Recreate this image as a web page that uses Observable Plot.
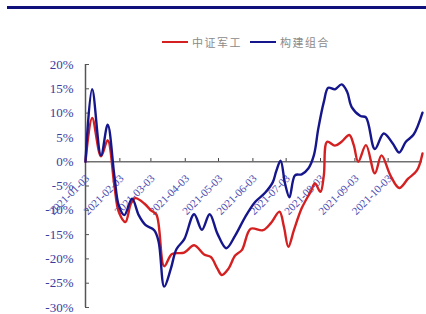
<!DOCTYPE html>
<html><head><meta charset="utf-8">
<script src="https://cdn.jsdelivr.net/npm/d3@7"></script>
<script src="https://cdn.jsdelivr.net/npm/@observablehq/plot@0.6"></script>
<style>
body{margin:0;background:#fff;}
#wrap{position:relative;width:426px;height:314px;overflow:hidden;background:#fff;}
#bar{position:absolute;left:7px;top:6px;width:419px;height:3px;background:#10107a;}
.leg{position:absolute;top:34px;height:16px;display:flex;align-items:center;font:11px "Noto Sans CJK SC";color:#8a8a8a;letter-spacing:1.5px;white-space:nowrap;}
.sw{display:inline-block;width:26px;height:2.5px;margin-right:4px;}
#chart{position:absolute;left:0;top:0;}
</style>
</head><body>
<div id="wrap">
  <div id="bar"></div>
  <div id="chart"></div>
  <div class="leg" id="leg1" style="left:162px"></div>
  <div class="leg" id="leg2" style="left:250px"></div>
</div>
<script>
// ---- data ----
const seriesNames = ["中证军工", "构建组合"];
const seriesColors = ["#d42020", "#16168c"];

const redDates = ["2021-01-03","2021-01-09","2021-01-17","2021-01-23","2021-01-29","2021-02-02","2021-02-08","2021-02-13","2021-02-17","2021-02-25","2021-03-03","2021-03-08","2021-03-15","2021-03-22","2021-04-02","2021-04-11","2021-04-20","2021-04-26","2021-05-02","2021-05-06","2021-05-12","2021-05-18","2021-05-24","2021-06-01","2021-06-12","2021-06-19","2021-06-27","2021-07-01","2021-07-05","2021-07-10","2021-07-17","2021-07-25","2021-07-29","2021-08-03","2021-08-06","2021-08-09","2021-08-16","2021-08-22","2021-08-29","2021-09-02","2021-09-06","2021-09-13","2021-09-21","2021-09-27","2021-10-05","2021-10-13","2021-10-21","2021-10-29","2021-11-03"];
const redValues = [0,9,1.1,4.4,-4.8,-10.3,-12.4,-8.6,-7.5,-8.6,-10,-10.9,-21.5,-19,-18.7,-17.2,-19.1,-19.6,-22,-23.3,-22,-19.3,-18.2,-13.8,-14.1,-12.7,-10.3,-13.4,-17.5,-14.1,-9.6,-6.2,-4.5,-6.2,-2.8,4.1,3.3,4.1,5.5,3.4,0,3.4,-2.4,1.3,-2.8,-5.4,-3.5,-1.8,1.7];

const blueDates = ["2021-01-03","2021-01-09","2021-01-17","2021-01-23","2021-01-29","2021-02-02","2021-02-07","2021-02-14","2021-02-20","2021-02-26","2021-03-06","2021-03-10","2021-03-15","2021-03-21","2021-03-26","2021-04-02","2021-04-11","2021-04-18","2021-04-25","2021-05-02","2021-05-10","2021-05-18","2021-05-27","2021-06-05","2021-06-14","2021-06-21","2021-06-24","2021-06-28","2021-07-02","2021-07-06","2021-07-11","2021-07-17","2021-07-23","2021-07-28","2021-08-01","2021-08-06","2021-08-10","2021-08-16","2021-08-22","2021-08-27","2021-08-31","2021-09-08","2021-09-13","2021-09-21","2021-09-29","2021-10-07","2021-10-13","2021-10-19","2021-10-26","2021-11-03"];
const blueValues = [0,14.9,1.3,7.6,-2.8,-9,-11,-7.6,-11,-13,-14.1,-16.5,-25.7,-22,-18,-16,-10.8,-14,-10.8,-14.8,-17.8,-15.2,-11.4,-8.3,-6.4,-4.2,-2,0.2,-4.5,-7.3,-2.8,-2.6,-1.4,1.3,6.8,12.3,15.2,14.9,15.9,14.4,11.3,9.4,9.1,2.6,5.8,3.8,1.9,4.1,5.6,10.1];

const xTickLabels = ["2021-01-03","2021-02-03","2021-03-03","2021-04-03","2021-05-03","2021-06-03","2021-07-03","2021-08-03","2021-09-03","2021-10-03"];
const yTicks = [-30,-25,-20,-15,-10,-5,0,5,10,15,20];
const xDomain = ["2021-01-03","2021-11-03"];

// ---- build ----
const parse = d3.utcParse("%Y-%m-%d");
const red = redDates.map((d,i)=>({date:parse(d), v:redValues[i]}));
const blue = blueDates.map((d,i)=>({date:parse(d), v:blueValues[i]}));
const monthTicks = xTickLabels.map(parse);

const serif = "Liberation Serif, Times New Roman, serif";
const chart = Plot.plot({
  width: 426, height: 314,
  marginTop: 64, marginBottom: 7, marginLeft: 85, marginRight: 4,
  style: {fontFamily: serif, background: "transparent"},
  x: {type: "utc", domain: xDomain.map(parse), axis: null},
  y: {domain: [-30, 20], axis: null},
  marks: [
    Plot.axisY({ticks: yTicks, label: null, tickSize: 0, tickPadding: 12, tickFormat: d => d + "%",
      fontFamily: serif, fontSize: 13, fill: "#3a3a9e"}),
    Plot.axisY({ticks: yTicks, label: null, tickSize: 4, dx: 4, tickFormat: () => "", stroke: "#555"}),
    Plot.ruleX([parse(xDomain[0])], {stroke: "#555", strokeWidth: 1.5}),
    Plot.ruleY([0], {stroke: "#707070", strokeWidth: 1.5}),
    Plot.ruleX(monthTicks, {x: d => d, y1: 0, y2: 0.65, stroke: "#444", strokeWidth: 1}),
    Plot.text(xTickLabels, {x: d => parse(d), y: 0, text: d => d, rotate: -45, textAnchor: "end",
      dy: 15, dx: 2, fontFamily: serif, fontSize: 11, fill: "#4a4ab2"}),
    Plot.line(red, {x: "date", y: "v", stroke: seriesColors[0], strokeWidth: 2.4, curve: "catmull-rom"}),
    Plot.line(blue, {x: "date", y: "v", stroke: seriesColors[1], strokeWidth: 2.4, curve: "catmull-rom"})
  ]
});
document.getElementById("chart").appendChild(chart);

["leg1","leg2"].forEach((id,i)=>{
  const el = document.getElementById(id);
  el.innerHTML = `<span class="sw" style="background:${seriesColors[i]}"></span>${seriesNames[i]}`;
});
</script>
</body></html>
